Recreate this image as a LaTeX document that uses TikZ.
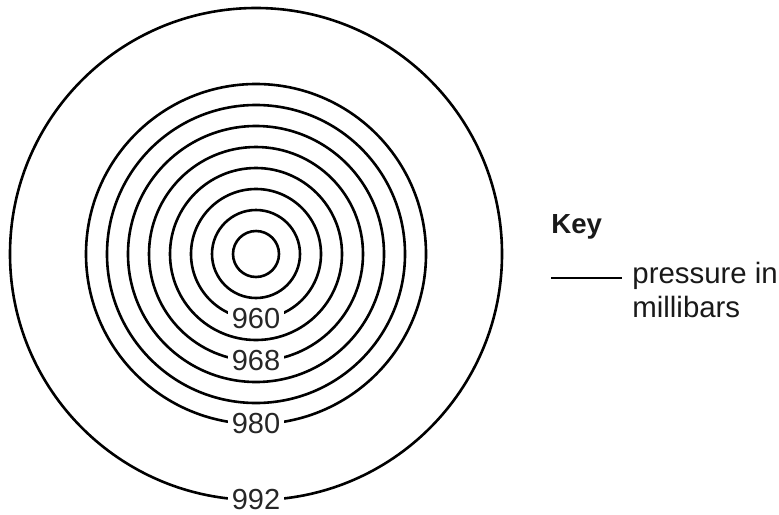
\documentclass[tikz,border=0pt]{standalone}
\usepackage{fontspec}
\setmainfont{Liberation Sans}
\begin{document}
\begin{tikzpicture}[x=0.5pt,y=-0.5pt,
    isobar/.style={draw,line width=1.3pt},
    lbl/.style={fill=white,inner xsep=2pt,inner ysep=1pt,text=black!85,font=\fontsize{14.5}{17}\selectfont},
    keytext/.style={inner sep=0pt,anchor=base west,text=black!90,font=\fontsize{14.7}{17}\selectfont}]
    \useasboundingbox (0,0) rectangle (779,514);

    \coordinate (c) at (256,254);

    \foreach \r in {23,44,65,86,107,128,149,170,246}
        \draw[isobar] (c) circle[radius=\r];

    \node[lbl] (960) at (256,319) {960};
    \node[lbl] (968) at (256,361) {968};
    \node[lbl] (980) at (256,424) {980};
    \node[lbl] (992) at (256,500) {992};

    \node[keytext,font=\fontsize{13.8}{17}\selectfont\bfseries] (key) at (551,233) {Key};
    \coordinate (k1) at (551,278);
    \coordinate (k2) at (622,278);
    \draw[isobar] (k1) -- (k2);
    \node[keytext] (p1) at (632,283) {pressure in};
    \node[keytext] (p2) at (632,317) {millibars};
\end{tikzpicture}
\end{document}
